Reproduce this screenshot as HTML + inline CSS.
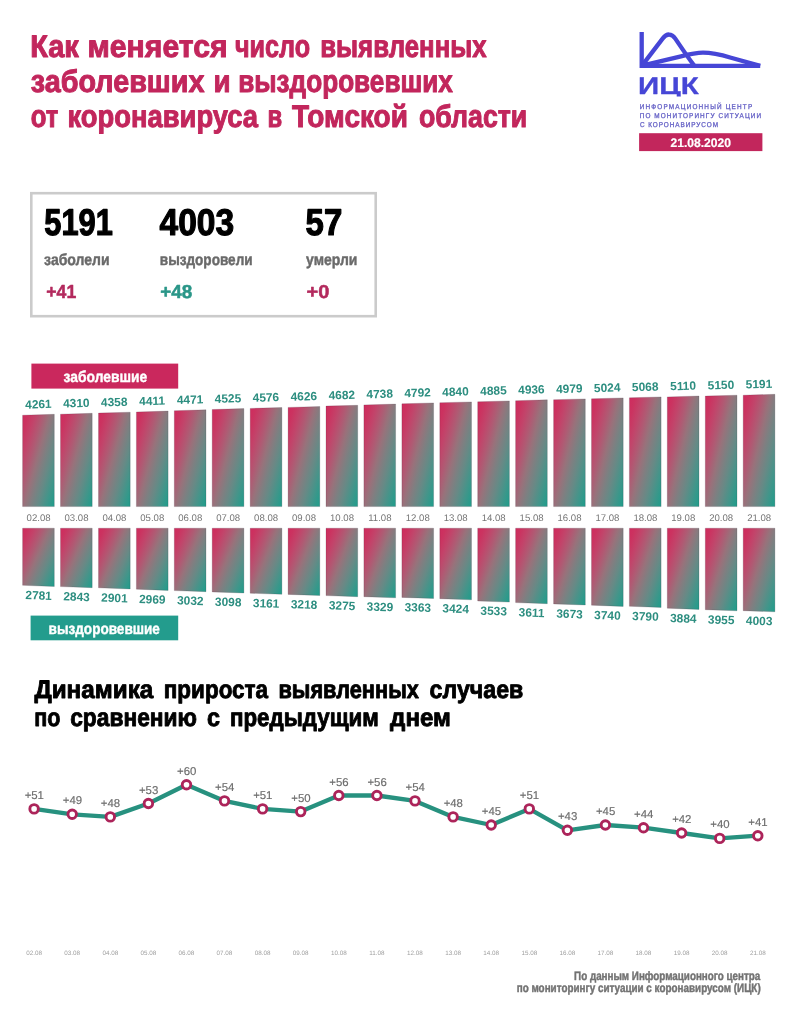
<!DOCTYPE html>
<html lang="ru">
<head>
<meta charset="utf-8">
<title>Как меняется число выявленных заболевших и выздоровевших от коронавируса в Томской области</title>
<style>
html,body{margin:0;padding:0;background:#ffffff;}
body{width:794px;height:1024px;overflow:hidden;font-family:"Liberation Sans", sans-serif;}
svg{display:block;font-family:"Liberation Sans", sans-serif;}
</style>
</head>
<body>
<svg width="794" height="1024" viewBox="0 0 794 1024" text-rendering="geometricPrecision">
<defs>
<linearGradient id="g" x1="0" y1="0" x2="1.089" y2="0.891">
<stop offset="0" stop-color="#cf2b5e"/>
<stop offset="0.1" stop-color="#cb3360"/>
<stop offset="0.22" stop-color="#c2446a"/>
<stop offset="0.35" stop-color="#b05a73"/>
<stop offset="0.47" stop-color="#98727b"/>
<stop offset="0.58" stop-color="#7f7f81"/>
<stop offset="0.7" stop-color="#668a86"/>
<stop offset="0.84" stop-color="#43958a"/>
<stop offset="0.97" stop-color="#249c8b"/>
</linearGradient>
</defs>
<rect width="794" height="1024" fill="#ffffff"/>
<g id="title">
<text y="57.0" font-size="31.4" fill="#c2265c" font-weight="bold" stroke="#c2265c" stroke-width="1.0" stroke-linejoin="round"><tspan x="30.2" textLength="48.7" lengthAdjust="spacingAndGlyphs">Как</tspan> <tspan x="87.5" textLength="140.1" lengthAdjust="spacingAndGlyphs">меняется</tspan> <tspan x="235.0" textLength="75.1" lengthAdjust="spacingAndGlyphs">число</tspan> <tspan x="320.2" textLength="166.5" lengthAdjust="spacingAndGlyphs">выявленных</tspan></text>
<text y="92.0" font-size="31.4" fill="#c2265c" font-weight="bold" stroke="#c2265c" stroke-width="1.0" stroke-linejoin="round"><tspan x="30.8" textLength="173.7" lengthAdjust="spacingAndGlyphs">заболевших</tspan> <tspan x="213.4" textLength="17.1" lengthAdjust="spacingAndGlyphs">и</tspan> <tspan x="238.2" textLength="214.7" lengthAdjust="spacingAndGlyphs">выздоровевших</tspan></text>
<text y="126.7" font-size="31.4" fill="#c2265c" font-weight="bold" stroke="#c2265c" stroke-width="1.0" stroke-linejoin="round"><tspan x="30.8" textLength="27.6" lengthAdjust="spacingAndGlyphs">от</tspan> <tspan x="67.5" textLength="190.6" lengthAdjust="spacingAndGlyphs">коронавируса</tspan> <tspan x="267.5" textLength="14.7" lengthAdjust="spacingAndGlyphs">в</tspan> <tspan x="292.0" textLength="115.9" lengthAdjust="spacingAndGlyphs">Томской</tspan> <tspan x="418.9" textLength="108.4" lengthAdjust="spacingAndGlyphs">области</tspan></text>
</g>
<g id="logo">
<path d="M641.7 32 V65.9 H760.2" fill="none" stroke="#4646d6" stroke-width="4.3" stroke-linejoin="miter"/><path d="M642 65.6 L662.8 38.4 C666.6 33.2 671.6 33.2 675.3 38.6 C682 48.5 688 57.5 694.4 65.9 M642 65.6 L681 56.3 C691 53.8 697 52.7 703 52.7 C712 52.7 722 55.1 731 57.7 L760.2 65.9" fill="none" stroke="#4646d6" stroke-width="4.3" stroke-linejoin="round"/>
<clipPath id="cl"><rect x="630" y="70" width="80" height="26.4"/></clipPath>
<text x="638.1" y="94.1" font-size="24.2" fill="#4646d6" font-weight="bold" textLength="60.7" lengthAdjust="spacingAndGlyphs" stroke="#4646d6" stroke-width="0.3" stroke-linejoin="round" clip-path="url(#cl)">ИЦК</text>
<text transform="translate(639.7 108.8) scale(0.9 1)" font-size="7.1" fill="#6561c6" letter-spacing="1.31" stroke="#6561c6" stroke-width="0.3">ИНФОРМАЦИОННЫЙ ЦЕНТР</text>
<text transform="translate(639.7 118.1) scale(0.9 1)" font-size="7.1" fill="#6561c6" letter-spacing="1.23" stroke="#6561c6" stroke-width="0.3">ПО МОНИТОРИНГУ СИТУАЦИИ</text>
<text transform="translate(639.9 127.3) scale(0.9 1)" font-size="7.1" fill="#6561c6" letter-spacing="1.06" stroke="#6561c6" stroke-width="0.3">С КОРОНАВИРУСОМ</text>
<rect x="639.1" y="133.2" width="123.3" height="17.9" fill="#c2265c"/>
<text x="670.5" y="146.8" font-size="12.4" fill="#ffffff" font-weight="bold" textLength="60.5" lengthAdjust="spacingAndGlyphs" stroke="#ffffff" stroke-width="0.2" stroke-linejoin="round">21.08.2020</text>
</g>
<g id="stats">
<rect x="31.3" y="193.2" width="344.4" height="123" fill="#ffffff" stroke="#cbcbcb" stroke-width="2.6"/>
<text x="44.3" y="235.1" font-size="37.2" fill="#000000" font-weight="bold" textLength="68.5" lengthAdjust="spacingAndGlyphs" stroke="#000000" stroke-width="1.2" stroke-linejoin="round">5191</text>
<text x="159.6" y="235.1" font-size="37.2" fill="#000000" font-weight="bold" textLength="74.5" lengthAdjust="spacingAndGlyphs" stroke="#000000" stroke-width="1.2" stroke-linejoin="round">4003</text>
<text x="305.6" y="235.1" font-size="37.2" fill="#000000" font-weight="bold" textLength="36.7" lengthAdjust="spacingAndGlyphs" stroke="#000000" stroke-width="1.2" stroke-linejoin="round">57</text>
<text x="44.1" y="264.8" font-size="16" fill="#6a6a6a" font-weight="bold" textLength="65.5" lengthAdjust="spacingAndGlyphs" stroke="#6a6a6a" stroke-width="0.45" stroke-linejoin="round">заболели</text>
<text x="159.8" y="264.8" font-size="16" fill="#6a6a6a" font-weight="bold" textLength="92.8" lengthAdjust="spacingAndGlyphs" stroke="#6a6a6a" stroke-width="0.45" stroke-linejoin="round">выздоровели</text>
<text x="306.1" y="264.8" font-size="16" fill="#6a6a6a" font-weight="bold" textLength="51.3" lengthAdjust="spacingAndGlyphs" stroke="#6a6a6a" stroke-width="0.45" stroke-linejoin="round">умерли</text>
<text x="46.3" y="298.3" font-size="18.8" fill="#b3295d" font-weight="bold" textLength="29.9" lengthAdjust="spacingAndGlyphs" stroke="#b3295d" stroke-width="0.5" stroke-linejoin="round">+41</text>
<text x="160.3" y="298.3" font-size="18.8" fill="#2a9688" font-weight="bold" textLength="32.0" lengthAdjust="spacingAndGlyphs" stroke="#2a9688" stroke-width="0.5" stroke-linejoin="round">+48</text>
<text x="306.6" y="298.3" font-size="18.8" fill="#b3295d" font-weight="bold" textLength="22.9" lengthAdjust="spacingAndGlyphs" stroke="#b3295d" stroke-width="0.5" stroke-linejoin="round">+0</text>
</g>
<g id="bars">
<rect x="31.4" y="363.6" width="146.8" height="25" fill="#ca285d"/>
<text x="63.6" y="381.8" font-size="15.6" fill="#ffffff" font-weight="bold" textLength="83.6" lengthAdjust="spacingAndGlyphs" stroke="#ffffff" stroke-width="0.4" stroke-linejoin="round">заболевшие</text>
<rect x="30.6" y="615.6" width="147.6" height="24.7" fill="#239c8d"/>
<text x="48.6" y="634.0" font-size="15.6" fill="#ffffff" font-weight="bold" textLength="111.3" lengthAdjust="spacingAndGlyphs" stroke="#ffffff" stroke-width="0.4" stroke-linejoin="round">выздоровевшие</text>
<path d="M22.6 415.2 L54.3 414.3 V506.6 H22.6 Z" fill="url(#g)" stroke="#402838" stroke-opacity="0.28" stroke-width="0.7"/>
<text x="38.5" y="408.3" font-size="11.9" fill="#2d8e80" font-weight="bold" text-anchor="middle" transform="rotate(-1.6 38.5 408.3)">4261</text>
<text x="38.6" y="520.9" font-size="9.6" fill="#767676" text-anchor="middle">02.08</text>
<path d="M22.6 528.2 H54.3 V586.5 L22.6 585.3 Z" fill="url(#g)" stroke="#402838" stroke-opacity="0.28" stroke-width="0.7"/>
<text x="38.5" y="599.5" font-size="11.9" fill="#2d8e80" font-weight="bold" text-anchor="middle" transform="rotate(2.0 38.5 599.5)">2781</text>
<path d="M60.5 414.2 L92.2 413.3 V506.6 H60.5 Z" fill="url(#g)" stroke="#402838" stroke-opacity="0.28" stroke-width="0.7"/>
<text x="76.4" y="407.2" font-size="11.9" fill="#2d8e80" font-weight="bold" text-anchor="middle" transform="rotate(-1.6 76.4 407.2)">4310</text>
<text x="76.5" y="520.9" font-size="9.6" fill="#767676" text-anchor="middle">03.08</text>
<path d="M60.5 528.2 H92.2 V587.7 L60.5 586.6 Z" fill="url(#g)" stroke="#402838" stroke-opacity="0.28" stroke-width="0.7"/>
<text x="76.4" y="600.8" font-size="11.9" fill="#2d8e80" font-weight="bold" text-anchor="middle" transform="rotate(2.0 76.4 600.8)">2843</text>
<path d="M98.5 413.1 L130.2 412.2 V506.6 H98.5 Z" fill="url(#g)" stroke="#402838" stroke-opacity="0.28" stroke-width="0.7"/>
<text x="114.3" y="406.2" font-size="11.9" fill="#2d8e80" font-weight="bold" text-anchor="middle" transform="rotate(-1.6 114.3 406.2)">4358</text>
<text x="114.4" y="520.9" font-size="9.6" fill="#767676" text-anchor="middle">04.08</text>
<path d="M98.5 528.2 H130.2 V589.0 L98.5 587.8 Z" fill="url(#g)" stroke="#402838" stroke-opacity="0.28" stroke-width="0.7"/>
<text x="114.3" y="602.0" font-size="11.9" fill="#2d8e80" font-weight="bold" text-anchor="middle" transform="rotate(2.0 114.3 602.0)">2901</text>
<path d="M136.4 412.0 L168.1 411.1 V506.6 H136.4 Z" fill="url(#g)" stroke="#402838" stroke-opacity="0.28" stroke-width="0.7"/>
<text x="152.2" y="405.0" font-size="11.9" fill="#2d8e80" font-weight="bold" text-anchor="middle" transform="rotate(-1.6 152.2 405.0)">4411</text>
<text x="152.3" y="520.9" font-size="9.6" fill="#767676" text-anchor="middle">05.08</text>
<path d="M136.4 528.2 H168.1 V590.4 L136.4 589.2 Z" fill="url(#g)" stroke="#402838" stroke-opacity="0.28" stroke-width="0.7"/>
<text x="152.2" y="603.4" font-size="11.9" fill="#2d8e80" font-weight="bold" text-anchor="middle" transform="rotate(2.0 152.2 603.4)">2969</text>
<path d="M174.3 410.7 L206.0 409.8 V506.6 H174.3 Z" fill="url(#g)" stroke="#402838" stroke-opacity="0.28" stroke-width="0.7"/>
<text x="190.2" y="403.7" font-size="11.9" fill="#2d8e80" font-weight="bold" text-anchor="middle" transform="rotate(-1.6 190.2 403.7)">4471</text>
<text x="190.3" y="520.9" font-size="9.6" fill="#767676" text-anchor="middle">06.08</text>
<path d="M174.3 528.2 H206.0 V591.7 L174.3 590.6 Z" fill="url(#g)" stroke="#402838" stroke-opacity="0.28" stroke-width="0.7"/>
<text x="190.2" y="604.7" font-size="11.9" fill="#2d8e80" font-weight="bold" text-anchor="middle" transform="rotate(2.0 190.2 604.7)">3032</text>
<path d="M212.2 409.5 L243.9 408.6 V506.6 H212.2 Z" fill="url(#g)" stroke="#402838" stroke-opacity="0.28" stroke-width="0.7"/>
<text x="228.1" y="402.6" font-size="11.9" fill="#2d8e80" font-weight="bold" text-anchor="middle" transform="rotate(-1.6 228.1 402.6)">4525</text>
<text x="228.2" y="520.9" font-size="9.6" fill="#767676" text-anchor="middle">07.08</text>
<path d="M212.2 528.2 H243.9 V593.0 L212.2 591.9 Z" fill="url(#g)" stroke="#402838" stroke-opacity="0.28" stroke-width="0.7"/>
<text x="228.1" y="606.1" font-size="11.9" fill="#2d8e80" font-weight="bold" text-anchor="middle" transform="rotate(2.0 228.1 606.1)">3098</text>
<path d="M250.2 408.4 L281.9 407.5 V506.6 H250.2 Z" fill="url(#g)" stroke="#402838" stroke-opacity="0.28" stroke-width="0.7"/>
<text x="266.0" y="401.5" font-size="11.9" fill="#2d8e80" font-weight="bold" text-anchor="middle" transform="rotate(-1.6 266.0 401.5)">4576</text>
<text x="266.1" y="520.9" font-size="9.6" fill="#767676" text-anchor="middle">08.08</text>
<path d="M250.2 528.2 H281.9 V594.3 L250.2 593.2 Z" fill="url(#g)" stroke="#402838" stroke-opacity="0.28" stroke-width="0.7"/>
<text x="266.0" y="607.4" font-size="11.9" fill="#2d8e80" font-weight="bold" text-anchor="middle" transform="rotate(2.0 266.0 607.4)">3161</text>
<path d="M288.1 407.4 L319.8 406.5 V506.6 H288.1 Z" fill="url(#g)" stroke="#402838" stroke-opacity="0.28" stroke-width="0.7"/>
<text x="303.9" y="400.4" font-size="11.9" fill="#2d8e80" font-weight="bold" text-anchor="middle" transform="rotate(-1.6 303.9 400.4)">4626</text>
<text x="304.0" y="520.9" font-size="9.6" fill="#767676" text-anchor="middle">09.08</text>
<path d="M288.1 528.2 H319.8 V595.5 L288.1 594.4 Z" fill="url(#g)" stroke="#402838" stroke-opacity="0.28" stroke-width="0.7"/>
<text x="303.9" y="608.6" font-size="11.9" fill="#2d8e80" font-weight="bold" text-anchor="middle" transform="rotate(2.0 303.9 608.6)">3218</text>
<path d="M326.0 406.1 L357.7 405.3 V506.6 H326.0 Z" fill="url(#g)" stroke="#402838" stroke-opacity="0.28" stroke-width="0.7"/>
<text x="341.9" y="399.2" font-size="11.9" fill="#2d8e80" font-weight="bold" text-anchor="middle" transform="rotate(-1.6 341.9 399.2)">4682</text>
<text x="342.0" y="520.9" font-size="9.6" fill="#767676" text-anchor="middle">10.08</text>
<path d="M326.0 528.2 H357.7 V596.7 L326.0 595.6 Z" fill="url(#g)" stroke="#402838" stroke-opacity="0.28" stroke-width="0.7"/>
<text x="341.9" y="609.8" font-size="11.9" fill="#2d8e80" font-weight="bold" text-anchor="middle" transform="rotate(2.0 341.9 609.8)">3275</text>
<path d="M363.9 404.9 L395.6 404.1 V506.6 H363.9 Z" fill="url(#g)" stroke="#402838" stroke-opacity="0.28" stroke-width="0.7"/>
<text x="379.8" y="398.0" font-size="11.9" fill="#2d8e80" font-weight="bold" text-anchor="middle" transform="rotate(-1.6 379.8 398.0)">4738</text>
<text x="379.9" y="520.9" font-size="9.6" fill="#767676" text-anchor="middle">11.08</text>
<path d="M363.9 528.2 H395.6 V597.8 L363.9 596.7 Z" fill="url(#g)" stroke="#402838" stroke-opacity="0.28" stroke-width="0.7"/>
<text x="379.8" y="610.9" font-size="11.9" fill="#2d8e80" font-weight="bold" text-anchor="middle" transform="rotate(2.0 379.8 610.9)">3329</text>
<path d="M401.9 403.8 L433.6 402.9 V506.6 H401.9 Z" fill="url(#g)" stroke="#402838" stroke-opacity="0.28" stroke-width="0.7"/>
<text x="417.7" y="396.8" font-size="11.9" fill="#2d8e80" font-weight="bold" text-anchor="middle" transform="rotate(-1.6 417.7 396.8)">4792</text>
<text x="417.8" y="520.9" font-size="9.6" fill="#767676" text-anchor="middle">12.08</text>
<path d="M401.9 528.2 H433.6 V598.5 L401.9 597.4 Z" fill="url(#g)" stroke="#402838" stroke-opacity="0.28" stroke-width="0.7"/>
<text x="417.7" y="611.6" font-size="11.9" fill="#2d8e80" font-weight="bold" text-anchor="middle" transform="rotate(2.0 417.7 611.6)">3363</text>
<path d="M439.8 402.7 L471.5 401.9 V506.6 H439.8 Z" fill="url(#g)" stroke="#402838" stroke-opacity="0.28" stroke-width="0.7"/>
<text x="455.6" y="395.8" font-size="11.9" fill="#2d8e80" font-weight="bold" text-anchor="middle" transform="rotate(-1.6 455.6 395.8)">4840</text>
<text x="455.7" y="520.9" font-size="9.6" fill="#767676" text-anchor="middle">13.08</text>
<path d="M439.8 528.2 H471.5 V599.8 L439.8 598.7 Z" fill="url(#g)" stroke="#402838" stroke-opacity="0.28" stroke-width="0.7"/>
<text x="455.6" y="612.8" font-size="11.9" fill="#2d8e80" font-weight="bold" text-anchor="middle" transform="rotate(2.0 455.6 612.8)">3424</text>
<path d="M477.7 401.8 L509.4 400.9 V506.6 H477.7 Z" fill="url(#g)" stroke="#402838" stroke-opacity="0.28" stroke-width="0.7"/>
<text x="493.6" y="394.8" font-size="11.9" fill="#2d8e80" font-weight="bold" text-anchor="middle" transform="rotate(-1.6 493.6 394.8)">4885</text>
<text x="493.7" y="520.9" font-size="9.6" fill="#767676" text-anchor="middle">14.08</text>
<path d="M477.7 528.2 H509.4 V602.1 L477.7 601.0 Z" fill="url(#g)" stroke="#402838" stroke-opacity="0.28" stroke-width="0.7"/>
<text x="493.6" y="615.1" font-size="11.9" fill="#2d8e80" font-weight="bold" text-anchor="middle" transform="rotate(2.0 493.6 615.1)">3533</text>
<path d="M515.6 400.7 L547.3 399.8 V506.6 H515.6 Z" fill="url(#g)" stroke="#402838" stroke-opacity="0.28" stroke-width="0.7"/>
<text x="531.5" y="393.7" font-size="11.9" fill="#2d8e80" font-weight="bold" text-anchor="middle" transform="rotate(-1.6 531.5 393.7)">4936</text>
<text x="531.6" y="520.9" font-size="9.6" fill="#767676" text-anchor="middle">15.08</text>
<path d="M515.6 528.2 H547.3 V603.7 L515.6 602.6 Z" fill="url(#g)" stroke="#402838" stroke-opacity="0.28" stroke-width="0.7"/>
<text x="531.5" y="616.7" font-size="11.9" fill="#2d8e80" font-weight="bold" text-anchor="middle" transform="rotate(2.0 531.5 616.7)">3611</text>
<path d="M553.6 399.7 L585.3 398.9 V506.6 H553.6 Z" fill="url(#g)" stroke="#402838" stroke-opacity="0.28" stroke-width="0.7"/>
<text x="569.4" y="392.8" font-size="11.9" fill="#2d8e80" font-weight="bold" text-anchor="middle" transform="rotate(-1.6 569.4 392.8)">4979</text>
<text x="569.5" y="520.9" font-size="9.6" fill="#767676" text-anchor="middle">16.08</text>
<path d="M553.6 528.2 H585.3 V605.0 L553.6 603.9 Z" fill="url(#g)" stroke="#402838" stroke-opacity="0.28" stroke-width="0.7"/>
<text x="569.4" y="618.0" font-size="11.9" fill="#2d8e80" font-weight="bold" text-anchor="middle" transform="rotate(2.0 569.4 618.0)">3673</text>
<path d="M591.5 398.8 L623.2 397.9 V506.6 H591.5 Z" fill="url(#g)" stroke="#402838" stroke-opacity="0.28" stroke-width="0.7"/>
<text x="607.3" y="391.8" font-size="11.9" fill="#2d8e80" font-weight="bold" text-anchor="middle" transform="rotate(-1.6 607.3 391.8)">5024</text>
<text x="607.4" y="520.9" font-size="9.6" fill="#767676" text-anchor="middle">17.08</text>
<path d="M591.5 528.2 H623.2 V606.4 L591.5 605.2 Z" fill="url(#g)" stroke="#402838" stroke-opacity="0.28" stroke-width="0.7"/>
<text x="607.3" y="619.4" font-size="11.9" fill="#2d8e80" font-weight="bold" text-anchor="middle" transform="rotate(2.0 607.3 619.4)">3740</text>
<path d="M629.4 397.8 L661.1 396.9 V506.6 H629.4 Z" fill="url(#g)" stroke="#402838" stroke-opacity="0.28" stroke-width="0.7"/>
<text x="645.3" y="390.9" font-size="11.9" fill="#2d8e80" font-weight="bold" text-anchor="middle" transform="rotate(-1.6 645.3 390.9)">5068</text>
<text x="645.4" y="520.9" font-size="9.6" fill="#767676" text-anchor="middle">18.08</text>
<path d="M629.4 528.2 H661.1 V607.4 L629.4 606.3 Z" fill="url(#g)" stroke="#402838" stroke-opacity="0.28" stroke-width="0.7"/>
<text x="645.3" y="620.4" font-size="11.9" fill="#2d8e80" font-weight="bold" text-anchor="middle" transform="rotate(2.0 645.3 620.4)">3790</text>
<path d="M667.3 396.9 L699.0 396.0 V506.6 H667.3 Z" fill="url(#g)" stroke="#402838" stroke-opacity="0.28" stroke-width="0.7"/>
<text x="683.2" y="390.0" font-size="11.9" fill="#2d8e80" font-weight="bold" text-anchor="middle" transform="rotate(-1.6 683.2 390.0)">5110</text>
<text x="683.3" y="520.9" font-size="9.6" fill="#767676" text-anchor="middle">19.08</text>
<path d="M667.3 528.2 H699.0 V609.4 L667.3 608.2 Z" fill="url(#g)" stroke="#402838" stroke-opacity="0.28" stroke-width="0.7"/>
<text x="683.2" y="622.4" font-size="11.9" fill="#2d8e80" font-weight="bold" text-anchor="middle" transform="rotate(2.0 683.2 622.4)">3884</text>
<path d="M705.3 396.1 L737.0 395.2 V506.6 H705.3 Z" fill="url(#g)" stroke="#402838" stroke-opacity="0.28" stroke-width="0.7"/>
<text x="721.1" y="389.1" font-size="11.9" fill="#2d8e80" font-weight="bold" text-anchor="middle" transform="rotate(-1.6 721.1 389.1)">5150</text>
<text x="721.2" y="520.9" font-size="9.6" fill="#767676" text-anchor="middle">20.08</text>
<path d="M705.3 528.2 H737.0 V610.8 L705.3 609.7 Z" fill="url(#g)" stroke="#402838" stroke-opacity="0.28" stroke-width="0.7"/>
<text x="721.1" y="623.9" font-size="11.9" fill="#2d8e80" font-weight="bold" text-anchor="middle" transform="rotate(2.0 721.1 623.9)">3955</text>
<path d="M743.2 395.2 L774.9 394.3 V506.6 H743.2 Z" fill="url(#g)" stroke="#402838" stroke-opacity="0.28" stroke-width="0.7"/>
<text x="759.1" y="388.2" font-size="11.9" fill="#2d8e80" font-weight="bold" text-anchor="middle" transform="rotate(-1.6 759.1 388.2)">5191</text>
<text x="759.2" y="520.9" font-size="9.6" fill="#767676" text-anchor="middle">21.08</text>
<path d="M743.2 528.2 H774.9 V611.8 L743.2 610.7 Z" fill="url(#g)" stroke="#402838" stroke-opacity="0.28" stroke-width="0.7"/>
<text x="759.1" y="624.9" font-size="11.9" fill="#2d8e80" font-weight="bold" text-anchor="middle" transform="rotate(2.0 759.1 624.9)">4003</text>
</g>
<g id="h2">
<text y="698.4" font-size="25.4" fill="#000000" font-weight="bold" stroke="#000000" stroke-width="0.9" stroke-linejoin="round"><tspan x="34.4" textLength="118.9" lengthAdjust="spacingAndGlyphs">Динамика</tspan> <tspan x="163.8" textLength="104.3" lengthAdjust="spacingAndGlyphs">прироста</tspan> <tspan x="278.4" textLength="140.5" lengthAdjust="spacingAndGlyphs">выявленных</tspan> <tspan x="429.6" textLength="93.7" lengthAdjust="spacingAndGlyphs">случаев</tspan></text>
<text y="726.0" font-size="25.4" fill="#000000" font-weight="bold" stroke="#000000" stroke-width="0.9" stroke-linejoin="round"><tspan x="34.2" textLength="26.2" lengthAdjust="spacingAndGlyphs">по</tspan> <tspan x="70.2" textLength="126.8" lengthAdjust="spacingAndGlyphs">сравнению</tspan> <tspan x="206.9" textLength="13.0" lengthAdjust="spacingAndGlyphs">с</tspan> <tspan x="229.9" textLength="149.0" lengthAdjust="spacingAndGlyphs">предыдущим</tspan> <tspan x="390.1" textLength="60.8" lengthAdjust="spacingAndGlyphs">днем</tspan></text>
</g>
<g id="line">
<polyline points="34.1,808.9 72.2,814.3 110.3,816.9 148.4,803.5 186.5,784.8 224.5,800.9 262.6,808.9 300.7,811.6 338.8,795.5 376.9,795.5 415.0,800.9 453.1,816.9 491.2,825.0 529.3,808.9 567.4,830.3 605.4,825.0 643.5,827.7 681.6,833.0 719.7,838.4 757.8,835.7" fill="none" stroke="#27917f" stroke-width="4.3" stroke-linejoin="round"/>
<circle cx="34.1" cy="808.9" r="4.25" fill="#ffffff" stroke="#ac245a" stroke-width="2.9"/>
<circle cx="72.2" cy="814.3" r="4.25" fill="#ffffff" stroke="#ac245a" stroke-width="2.9"/>
<circle cx="110.3" cy="816.9" r="4.25" fill="#ffffff" stroke="#ac245a" stroke-width="2.9"/>
<circle cx="148.4" cy="803.5" r="4.25" fill="#ffffff" stroke="#ac245a" stroke-width="2.9"/>
<circle cx="186.5" cy="784.8" r="4.25" fill="#ffffff" stroke="#ac245a" stroke-width="2.9"/>
<circle cx="224.5" cy="800.9" r="4.25" fill="#ffffff" stroke="#ac245a" stroke-width="2.9"/>
<circle cx="262.6" cy="808.9" r="4.25" fill="#ffffff" stroke="#ac245a" stroke-width="2.9"/>
<circle cx="300.7" cy="811.6" r="4.25" fill="#ffffff" stroke="#ac245a" stroke-width="2.9"/>
<circle cx="338.8" cy="795.5" r="4.25" fill="#ffffff" stroke="#ac245a" stroke-width="2.9"/>
<circle cx="376.9" cy="795.5" r="4.25" fill="#ffffff" stroke="#ac245a" stroke-width="2.9"/>
<circle cx="415.0" cy="800.9" r="4.25" fill="#ffffff" stroke="#ac245a" stroke-width="2.9"/>
<circle cx="453.1" cy="816.9" r="4.25" fill="#ffffff" stroke="#ac245a" stroke-width="2.9"/>
<circle cx="491.2" cy="825.0" r="4.25" fill="#ffffff" stroke="#ac245a" stroke-width="2.9"/>
<circle cx="529.3" cy="808.9" r="4.25" fill="#ffffff" stroke="#ac245a" stroke-width="2.9"/>
<circle cx="567.4" cy="830.3" r="4.25" fill="#ffffff" stroke="#ac245a" stroke-width="2.9"/>
<circle cx="605.4" cy="825.0" r="4.25" fill="#ffffff" stroke="#ac245a" stroke-width="2.9"/>
<circle cx="643.5" cy="827.7" r="4.25" fill="#ffffff" stroke="#ac245a" stroke-width="2.9"/>
<circle cx="681.6" cy="833.0" r="4.25" fill="#ffffff" stroke="#ac245a" stroke-width="2.9"/>
<circle cx="719.7" cy="838.4" r="4.25" fill="#ffffff" stroke="#ac245a" stroke-width="2.9"/>
<circle cx="757.8" cy="835.7" r="4.25" fill="#ffffff" stroke="#ac245a" stroke-width="2.9"/>
<text x="34.3" y="798.9" font-size="11.4" fill="#6c6c6c" text-anchor="middle" stroke="#6c6c6c" stroke-width="0.15" stroke-linejoin="round">+51</text>
<text x="72.4" y="804.3" font-size="11.4" fill="#6c6c6c" text-anchor="middle" stroke="#6c6c6c" stroke-width="0.15" stroke-linejoin="round">+49</text>
<text x="110.5" y="806.9" font-size="11.4" fill="#6c6c6c" text-anchor="middle" stroke="#6c6c6c" stroke-width="0.15" stroke-linejoin="round">+48</text>
<text x="148.6" y="793.5" font-size="11.4" fill="#6c6c6c" text-anchor="middle" stroke="#6c6c6c" stroke-width="0.15" stroke-linejoin="round">+53</text>
<text x="186.7" y="774.8" font-size="11.4" fill="#6c6c6c" text-anchor="middle" stroke="#6c6c6c" stroke-width="0.15" stroke-linejoin="round">+60</text>
<text x="224.7" y="790.9" font-size="11.4" fill="#6c6c6c" text-anchor="middle" stroke="#6c6c6c" stroke-width="0.15" stroke-linejoin="round">+54</text>
<text x="262.8" y="798.9" font-size="11.4" fill="#6c6c6c" text-anchor="middle" stroke="#6c6c6c" stroke-width="0.15" stroke-linejoin="round">+51</text>
<text x="300.9" y="801.6" font-size="11.4" fill="#6c6c6c" text-anchor="middle" stroke="#6c6c6c" stroke-width="0.15" stroke-linejoin="round">+50</text>
<text x="339.0" y="785.5" font-size="11.4" fill="#6c6c6c" text-anchor="middle" stroke="#6c6c6c" stroke-width="0.15" stroke-linejoin="round">+56</text>
<text x="377.1" y="785.5" font-size="11.4" fill="#6c6c6c" text-anchor="middle" stroke="#6c6c6c" stroke-width="0.15" stroke-linejoin="round">+56</text>
<text x="415.2" y="790.9" font-size="11.4" fill="#6c6c6c" text-anchor="middle" stroke="#6c6c6c" stroke-width="0.15" stroke-linejoin="round">+54</text>
<text x="453.3" y="806.9" font-size="11.4" fill="#6c6c6c" text-anchor="middle" stroke="#6c6c6c" stroke-width="0.15" stroke-linejoin="round">+48</text>
<text x="491.4" y="815.0" font-size="11.4" fill="#6c6c6c" text-anchor="middle" stroke="#6c6c6c" stroke-width="0.15" stroke-linejoin="round">+45</text>
<text x="529.5" y="798.9" font-size="11.4" fill="#6c6c6c" text-anchor="middle" stroke="#6c6c6c" stroke-width="0.15" stroke-linejoin="round">+51</text>
<text x="567.6" y="820.3" font-size="11.4" fill="#6c6c6c" text-anchor="middle" stroke="#6c6c6c" stroke-width="0.15" stroke-linejoin="round">+43</text>
<text x="605.6" y="815.0" font-size="11.4" fill="#6c6c6c" text-anchor="middle" stroke="#6c6c6c" stroke-width="0.15" stroke-linejoin="round">+45</text>
<text x="643.7" y="817.7" font-size="11.4" fill="#6c6c6c" text-anchor="middle" stroke="#6c6c6c" stroke-width="0.15" stroke-linejoin="round">+44</text>
<text x="681.8" y="823.0" font-size="11.4" fill="#6c6c6c" text-anchor="middle" stroke="#6c6c6c" stroke-width="0.15" stroke-linejoin="round">+42</text>
<text x="719.9" y="828.4" font-size="11.4" fill="#6c6c6c" text-anchor="middle" stroke="#6c6c6c" stroke-width="0.15" stroke-linejoin="round">+40</text>
<text x="758.0" y="825.7" font-size="11.4" fill="#6c6c6c" text-anchor="middle" stroke="#6c6c6c" stroke-width="0.15" stroke-linejoin="round">+41</text>
<text x="34.1" y="955.4" font-size="6.3" fill="#a0a0a0" text-anchor="middle">02.08</text>
<text x="72.2" y="955.4" font-size="6.3" fill="#a0a0a0" text-anchor="middle">03.08</text>
<text x="110.3" y="955.4" font-size="6.3" fill="#a0a0a0" text-anchor="middle">04.08</text>
<text x="148.4" y="955.4" font-size="6.3" fill="#a0a0a0" text-anchor="middle">05.08</text>
<text x="186.5" y="955.4" font-size="6.3" fill="#a0a0a0" text-anchor="middle">06.08</text>
<text x="224.5" y="955.4" font-size="6.3" fill="#a0a0a0" text-anchor="middle">07.08</text>
<text x="262.6" y="955.4" font-size="6.3" fill="#a0a0a0" text-anchor="middle">08.08</text>
<text x="300.7" y="955.4" font-size="6.3" fill="#a0a0a0" text-anchor="middle">09.08</text>
<text x="338.8" y="955.4" font-size="6.3" fill="#a0a0a0" text-anchor="middle">10.08</text>
<text x="376.9" y="955.4" font-size="6.3" fill="#a0a0a0" text-anchor="middle">11.08</text>
<text x="415.0" y="955.4" font-size="6.3" fill="#a0a0a0" text-anchor="middle">12.08</text>
<text x="453.1" y="955.4" font-size="6.3" fill="#a0a0a0" text-anchor="middle">13.08</text>
<text x="491.2" y="955.4" font-size="6.3" fill="#a0a0a0" text-anchor="middle">14.08</text>
<text x="529.3" y="955.4" font-size="6.3" fill="#a0a0a0" text-anchor="middle">15.08</text>
<text x="567.4" y="955.4" font-size="6.3" fill="#a0a0a0" text-anchor="middle">16.08</text>
<text x="605.4" y="955.4" font-size="6.3" fill="#a0a0a0" text-anchor="middle">17.08</text>
<text x="643.5" y="955.4" font-size="6.3" fill="#a0a0a0" text-anchor="middle">18.08</text>
<text x="681.6" y="955.4" font-size="6.3" fill="#a0a0a0" text-anchor="middle">19.08</text>
<text x="719.7" y="955.4" font-size="6.3" fill="#a0a0a0" text-anchor="middle">20.08</text>
<text x="757.8" y="955.4" font-size="6.3" fill="#a0a0a0" text-anchor="middle">21.08</text>
</g>
<g id="footer">
<text x="574.1" y="979.5" font-size="12.2" fill="#737373" font-weight="bold" textLength="186.1" lengthAdjust="spacingAndGlyphs" stroke="#737373" stroke-width="0.45" stroke-linejoin="round">По данным Информационного центра</text>
<text x="516.7" y="991.5" font-size="12.2" fill="#737373" font-weight="bold" textLength="244.0" lengthAdjust="spacingAndGlyphs" stroke="#737373" stroke-width="0.45" stroke-linejoin="round">по мониторингу ситуации с коронавирусом (ИЦК)</text>
</g>
</svg>
</body>
</html>
